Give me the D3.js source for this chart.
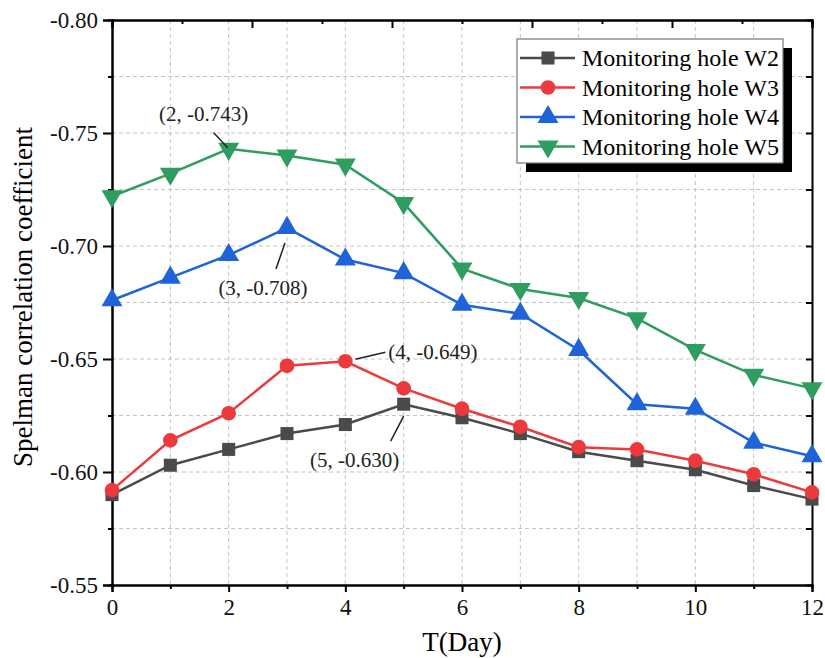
<!DOCTYPE html>
<html>
<head>
<meta charset="utf-8">
<script src="https://cdn.jsdelivr.net/npm/d3@7"></script>
<style>
  body { margin: 0; background: #fff; }
  text { font-family: "Liberation Serif", "Times New Roman", serif; }
</style>
</head>
<body>
<div id="chart"></div>
<script>
// Days and Spearman coefficients for each monitoring hole
var days = [0, 1, 2, 3, 4, 5, 6, 7, 8, 9, 10, 11, 12];
var w2 = [-0.590, -0.603, -0.610, -0.617, -0.621, -0.630, -0.624, -0.617, -0.609, -0.605, -0.601, -0.594, -0.588];
var w3 = [-0.592, -0.614, -0.626, -0.647, -0.649, -0.637, -0.628, -0.620, -0.611, -0.610, -0.605, -0.599, -0.591];
var w4 = [-0.676, -0.686, -0.696, -0.708, -0.694, -0.688, -0.674, -0.670, -0.654, -0.630, -0.628, -0.613, -0.607];
var w5 = [-0.722, -0.732, -0.743, -0.740, -0.736, -0.719, -0.690, -0.681, -0.677, -0.668, -0.654, -0.643, -0.637];
var seriesNames = ["Monitoring hole W2", "Monitoring hole W3", "Monitoring hole W4", "Monitoring hole W5"];
var yTicks = [-0.55, -0.60, -0.65, -0.70, -0.75, -0.80];
var xTicks = [0, 2, 4, 6, 8, 10, 12];

// peak labels: series index, day, leader line and text offsets
var peaks = [
  { s: 3, day: 2, dx1: -15, dy1: -16, dx2: -1, dy2: -1, tx: -25, ty: -28 },
  { s: 2, day: 3, dx1: -2, dy1: 15, dx2: -11, dy2: 41, tx: -24, ty: 67 },
  { s: 1, day: 4, dx1: 10, dy1: -2, dx2: 40, dy2: -9, tx: 43, ty: -2 },
  { s: 0, day: 5, dx1: 0, dy1: 12, dx2: -13, dy2: 37, tx: -49, ty: 63 }
];

var svgWidth = 825, svgHeight = 658;
var margin = { top: 20, right: 13, bottom: 73, left: 112 };
var chartWidth = svgWidth - margin.left - margin.right;
var chartHeight = svgHeight - margin.top - margin.bottom;
var serif = "'Liberation Serif', 'Times New Roman', serif";

var colors = ["#4a4a4a", "#ec3a3c", "#1f63d8", "#2e9d5f"];
var shapes = [d3.symbolSquare, d3.symbolCircle, d3.symbolTriangle, d3.symbolTriangle];
var sizes = [170, 170, 190, 190];

var data = [w2, w3, w4, w5].map(function (vals, i) {
  return { name: seriesNames[i], color: colors[i], values: days.map(function (d, j) { return { x: d, y: vals[j] }; }) };
});

var svg = d3.select("#chart").append("svg")
  .attr("width", svgWidth)
  .attr("height", svgHeight)
  .attr("font-family", serif);

var chartGroup = svg.append("g")
  .attr("transform", `translate(${margin.left}, ${margin.top})`);

var x = d3.scaleLinear().domain([0, 12]).range([0, chartWidth]);
var y = d3.scaleLinear().domain([-0.55, -0.80]).range([chartHeight, 0]);
var xTop = d3.scaleLinear().domain([0, 10]).range([0, chartWidth]);

// dashed grid
var gridX = d3.range(1, 12);
var gridY = d3.range(1, 10).map(function (k) { return -0.55 - k * 0.025; });
chartGroup.append("g").selectAll("line")
  .data(gridX).enter().append("line")
  .attr("x1", d => x(d)).attr("x2", d => x(d))
  .attr("y1", 0).attr("y2", chartHeight)
  .attr("stroke", "#c4c4c4").attr("stroke-dasharray", "4,3").attr("stroke-width", 1);
chartGroup.append("g").selectAll("line")
  .data(gridY).enter().append("line")
  .attr("y1", d => y(d)).attr("y2", d => y(d))
  .attr("x1", 0).attr("x2", chartWidth)
  .attr("stroke", "#c4c4c4").attr("stroke-dasharray", "4,3").attr("stroke-width", 1);

// axes
function styleAxis(g) {
  g.attr("font-family", serif).attr("font-size", 23);
  g.select(".domain").attr("stroke", "#000").attr("stroke-width", 2);
  g.selectAll(".tick line").attr("stroke", "#000").attr("stroke-width", 2);
  g.selectAll(".tick text").attr("fill", "#111");
}

var bottomMinor = chartGroup.append("g")
  .attr("transform", "translate(0," + chartHeight + ")")
  .call(d3.axisBottom(x).tickValues(d3.range(1, 12, 2)).tickSize(4).tickFormat(""));
styleAxis(bottomMinor);
var bottomAxis = chartGroup.append("g")
  .attr("transform", "translate(0," + chartHeight + ")")
  .call(d3.axisBottom(x).tickValues(xTicks).tickSize(7).tickPadding(7).tickFormat(d3.format("d")));
styleAxis(bottomAxis);

var leftMinor = chartGroup.append("g")
  .call(d3.axisLeft(y).tickValues(gridY.filter((d, i) => i % 2 === 0)).tickSize(4).tickFormat(""));
styleAxis(leftMinor);
var leftAxis = chartGroup.append("g")
  .call(d3.axisLeft(y).tickValues(yTicks).tickSize(9).tickPadding(5).tickFormat(d => d.toFixed(2)));
styleAxis(leftAxis);

var topMinor = chartGroup.append("g")
  .call(d3.axisBottom(xTop).tickValues(d3.range(1, 10, 2)).tickSize(4).tickFormat(""));
styleAxis(topMinor);
var topAxis = chartGroup.append("g")
  .call(d3.axisBottom(xTop).tickValues(d3.range(0, 11, 2)).tickSize(8).tickFormat(""));
styleAxis(topAxis);

var rightAxis = chartGroup.append("g")
  .attr("transform", "translate(" + chartWidth + ",0)")
  .call(d3.axisLeft(y).tickValues(gridY).tickSize(6).tickFormat(""));
styleAxis(rightAxis);

// axis titles
svg.append("text")
  .attr("x", margin.left + chartWidth / 2)
  .attr("y", 651)
  .attr("text-anchor", "middle")
  .style("font-size", "27px")
  .text("T(Day)");

svg.append("text")
  .attr("transform", "translate(32,297) rotate(-90)")
  .attr("text-anchor", "middle")
  .style("font-size", "27px")
  .text("Spelman correlation coefficient");

// series lines and markers
var line = d3.line().x(d => x(d.x)).y(d => y(d.y));

data.forEach(function (s, i) {
  chartGroup.append("path")
    .datum(s.values)
    .attr("fill", "none")
    .attr("stroke", s.color)
    .attr("stroke-width", 2.5)
    .attr("d", line);

  chartGroup.append("g").selectAll("path")
    .data(s.values).enter().append("path")
    .attr("d", d3.symbol().type(shapes[i]).size(sizes[i]))
    .attr("transform", d => `translate(${x(d.x)},${y(d.y)})` + (i === 3 ? " rotate(180)" : ""))
    .attr("fill", s.color);
});

// peak annotations
peaks.forEach(function (p) {
  var px = x(p.day), py = y(data[p.s].values[p.day].y);
  chartGroup.append("line")
    .attr("x1", px + p.dx1).attr("y1", py + p.dy1)
    .attr("x2", px + p.dx2).attr("y2", py + p.dy2)
    .attr("stroke", "#222").attr("stroke-width", 1.5);
  chartGroup.append("text")
    .attr("x", px + p.tx).attr("y", py + p.ty)
    .attr("text-anchor", p.tx > 30 ? "start" : "middle")
    .style("font-size", "21px")
    .attr("fill", "#222")
    .text("(" + p.day + ", " + data[p.s].values[p.day].y.toFixed(3) + ")");
});

// legend with drop shadow
var legend = svg.append("g").attr("transform", "translate(517,39)");
var lw = 266, lh = 124;
legend.append("rect").attr("x", 9).attr("y", 9).attr("width", lw).attr("height", lh).attr("fill", "#000");
legend.append("rect").attr("width", lw).attr("height", lh)
  .attr("fill", "#fff").attr("stroke", "#777").attr("stroke-width", 1.2);

data.forEach(function (s, i) {
  var row = legend.append("g").attr("transform", `translate(0,${19 + i * 29.5})`);
  row.append("line").attr("x1", 3).attr("x2", 58).attr("y1", 0).attr("y2", 0)
    .attr("stroke", s.color).attr("stroke-width", 2.5);
  row.append("path")
    .attr("d", d3.symbol().type(shapes[i]).size(sizes[i]))
    .attr("transform", "translate(31,0)" + (i === 3 ? " rotate(180)" : ""))
    .attr("fill", s.color);
  row.append("text").attr("x", 65).attr("y", 8)
    .style("font-size", "24px")
    .text(s.name);
});
</script>
</body>
</html>
